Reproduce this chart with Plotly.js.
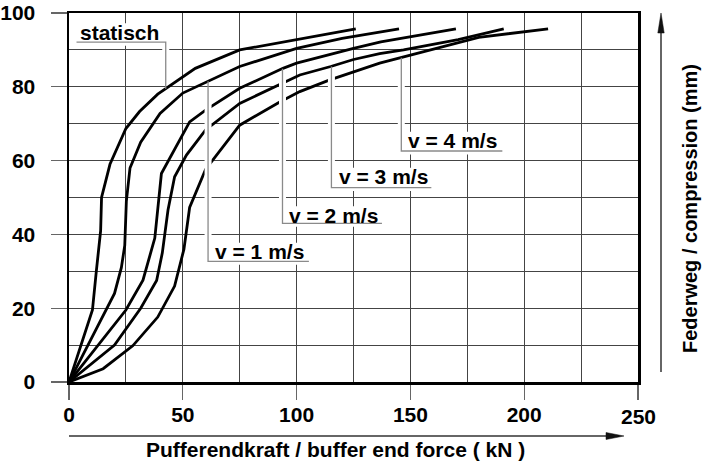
<!DOCTYPE html>
<html>
<head>
<meta charset="utf-8">
<script src="https://cdn.plot.ly/plotly-3.0.1.min.js"></script>
<style>
html,body{margin:0;padding:0;background:#fff;}
#chart{width:718px;height:464px;}
</style>
</head>
<body>
<div id="chart"></div>
<script>
// ---- data (force in kN, compression in mm) ----
const seriesNames = ['statisch', 'v = 1 m/s', 'v = 2 m/s', 'v = 3 m/s', 'v = 4 m/s'];

const staticForce = [0, 10.3, 12, 13.9, 14.3, 18, 25, 31, 39, 55.5, 75, 126];
const staticComp  = [0, 19.5, 30, 41, 50, 59, 68.7, 73.3, 78, 85, 90, 95.7];

const v1Force = [0, 20, 23, 24.5, 25.2, 26.8, 31.5, 40, 50, 75, 100, 120, 145];
const v1Comp  = [0, 24, 31, 37, 49, 58, 65, 72.8, 78.3, 85.5, 90.4, 93.1, 95.7];

const v2Force = [0, 25, 32.5, 36.2, 37.7, 40.6, 43.5, 48.6, 53, 60, 75, 94, 100, 125, 137, 170];
const v2Comp  = [0, 19.5, 27.6, 35.7, 39, 56.5, 59.7, 65.6, 70.5, 73.7, 79.6, 85, 86.4, 90.4, 92.2, 95.7];

const v3Force = [0, 20, 31.5, 38.5, 41, 43.5, 46.4, 51.6, 56.7, 60, 75, 92.5, 101.4, 115, 125, 136.5, 147, 171, 191];
const v3Comp  = [0, 10, 20, 27.5, 35, 46.6, 55.6, 61.5, 65.6, 68.3, 75.5, 80.5, 83.2, 85.5, 87.4, 89, 90, 92.8, 95.7];

const v4Force = [0, 15, 28, 39, 46.4, 50.5, 53, 60, 75, 92.6, 101.4, 114.3, 136.5, 146.5, 167, 180, 210.5];
const v4Comp  = [0, 3.6, 9.8, 17.6, 26, 36, 47.3, 57.6, 69.6, 75.9, 78.7, 81.8, 86.4, 88, 91.3, 93.4, 95.7];

const xTickVals = [0, 50, 100, 150, 200, 250];
const xTickText = ['0', '50', '100', '150', '200', ''];
const yTickVals = [0, 20, 40, 60, 80, 100];
const xTitle = 'Pufferendkraft / buffer end force ( kN )';
const yTitle = 'Federweg / compression (mm)';

// ---- presentation ----
const FONT = '"Liberation Sans", Arial, Helvetica, sans-serif';
const curves = [[staticForce, staticComp], [v1Force, v1Comp], [v2Force, v2Comp], [v3Force, v3Comp], [v4Force, v4Comp]];
const traces = curves.map((c, i) => ({
  x: c[0], y: c[1], name: seriesNames[i], type: 'scatter', mode: 'lines',
  line: {color: '#000', width: 2.8}, hoverinfo: 'skip'
}));

// label placement (layout only)
const labelPlace = [
  {tx: 22.4, ty: 94.8, lx: 42.5, tip: 79.5, uy: 92.1, u0: 3.3, u1: 42.5, top: true},
  {tx: 83.5, ty: 35.3, lx: 61.1, tip: 81.5, uy: 32.7, u0: 61.1, u1: 105.4},
  {tx: 116.1, ty: 45.2, lx: 93.8, tip: 84.9, uy: 43.0, u0: 93.8, u1: 137.5},
  {tx: 138.1, ty: 55.6, lx: 115.3, tip: 85.5, uy: 52.7, u0: 115.3, u1: 159.2},
  {tx: 168.4, ty: 65.4, lx: 146.0, tip: 87.9, uy: 62.6, u0: 146.0, u1: 190.4}
];

const pxPerX = 569 / 250, pxPerY = 369 / 100;
const cv = document.createElement('canvas').getContext('2d');
cv.font = 'bold 21px "Liberation Sans"';

const bgShapes = [], haloShapes = [], lineShapes = [], anns = [];
labelPlace.forEach((p, i) => {
  const w = cv.measureText(seriesNames[i]).width;
  const hw = (w / 2 + 2) / pxPerX;
  bgShapes.push({type: 'rect', xref: 'x', yref: 'y', layer: 'above',
    x0: p.tx - hw, x1: p.tx + hw, y0: p.ty - 9 / pxPerY, y1: p.ty + 9 / pxPerY,
    fillcolor: '#fff', line: {width: 0}});
  let halo, path;
  if (p.top) {
    halo = `M ${p.u0},${p.uy} L ${p.lx},${p.uy} L ${p.lx},${p.tip + 2}`;
    path = `M ${p.u0},${p.uy} L ${p.lx},${p.uy} L ${p.lx},${p.tip}`;
  } else {
    halo = `M ${p.lx},${p.tip - 2.2} L ${p.lx},${p.uy} L ${p.u1},${p.uy}`;
    path = `M ${p.lx},${p.tip} L ${p.lx},${p.uy} L ${p.u1},${p.uy}`;
  }
  haloShapes.push({type: 'path', xref: 'x', yref: 'y', layer: 'above', path: halo,
    line: {color: '#fff', width: 7}});
  lineShapes.push({type: 'path', xref: 'x', yref: 'y', layer: 'above', path: path,
    line: {color: '#8a8a8a', width: 1.3}});
  anns.push({x: p.tx, y: p.ty, xref: 'x', yref: 'y', text: seriesNames[i], showarrow: false,
    xanchor: 'center', yanchor: 'middle',
    font: {family: FONT, size: 21, color: '#000', weight: 'bold'}});
});

// axis title annotations
anns.push({xref: 'paper', yref: 'paper', x: 0.4684, y: -0.183, text: xTitle, showarrow: false,
  xanchor: 'center', yanchor: 'middle', font: {family: FONT, size: 21, color: '#000', weight: 'bold'}});
anns.push({xref: 'paper', yref: 'paper', x: 1.0914, y: 0.4688, text: yTitle, showarrow: false,
  textangle: -90, xanchor: 'center', yanchor: 'middle', font: {family: FONT, size: 20, color: '#000', weight: 'bold'}});
anns.push({xref: 'x', yref: 'paper', x: 250, y: -0.094, text: '250', showarrow: false,
  xanchor: 'center', yanchor: 'middle', font: {family: FONT, size: 21, color: '#000', weight: 'bold'}});

// axis arrows (paper coordinates derived from pixel layout)
const PW = 569, PH = 369;
const px2x = px => (px - 69) / PW, py2y = py => (382 - py) / PH;
const arrowShapes = [];
{
  const y = py2y(436);
  arrowShapes.push({type: 'line', xref: 'paper', yref: 'paper', x0: px2x(69), x1: px2x(610), y0: y, y1: y,
    line: {color: '#333', width: 1.5}});
  arrowShapes.push({type: 'path', xref: 'paper', yref: 'paper',
    path: `M ${px2x(606)},${py2y(432.5)} L ${px2x(624)},${y} L ${px2x(606)},${py2y(439.5)} Z`,
    fillcolor: '#111', line: {color: '#111', width: 0.5}});
  const x = px2x(661);
  arrowShapes.push({type: 'line', xref: 'paper', yref: 'paper', x0: x, x1: x, y0: py2y(372), y1: py2y(30),
    line: {color: '#333', width: 1.5}});
  arrowShapes.push({type: 'path', xref: 'paper', yref: 'paper',
    path: `M ${px2x(657.8)},${py2y(33)} L ${x},${py2y(13)} L ${px2x(664.2)},${py2y(33)} Z`,
    fillcolor: '#111', line: {color: '#111', width: 0.5}});
}

const gridC = '#444';
const tickFont = {family: FONT, size: 21, color: '#000', weight: 'bold'};
const layout = {
  width: 718, height: 464,
  margin: {l: 69, r: 80, t: 13, b: 82},
  paper_bgcolor: '#fff', plot_bgcolor: '#fff',
  showlegend: false,
  xaxis: {
    range: [0, 250], tickmode: 'array', tickvals: xTickVals, ticktext: xTickText,
    ticks: 'outside', ticklen: 15, tickwidth: 1.3, tickcolor: '#666',
    ticklabelstandoff: -3,
    showgrid: true, gridcolor: gridC, gridwidth: 1,
    minor: {dtick: 25, tick0: 0, showgrid: true, gridcolor: gridC, gridwidth: 1, ticks: ''},
    showline: true, linecolor: '#000', linewidth: 2.5, mirror: true, zeroline: false,
    tickfont: tickFont, fixedrange: true
  },
  yaxis: {
    range: [0, 100], tickmode: 'array', tickvals: yTickVals,
    ticks: 'outside', ticklen: 16, tickwidth: 1.3, tickcolor: '#666',
    ticklabelstandoff: 11,
    showgrid: true, gridcolor: gridC, gridwidth: 1,
    minor: {dtick: 10, tick0: 0, showgrid: true, gridcolor: gridC, gridwidth: 1, ticks: ''},
    showline: true, linecolor: '#000', linewidth: 2.5, mirror: true, zeroline: false,
    tickfont: tickFont, fixedrange: true
  },
  shapes: bgShapes.concat(haloShapes, lineShapes, arrowShapes),
  annotations: anns
};

Plotly.newPlot('chart', traces, layout, {displayModeBar: false, staticPlot: true});
</script>
</body>
</html>
